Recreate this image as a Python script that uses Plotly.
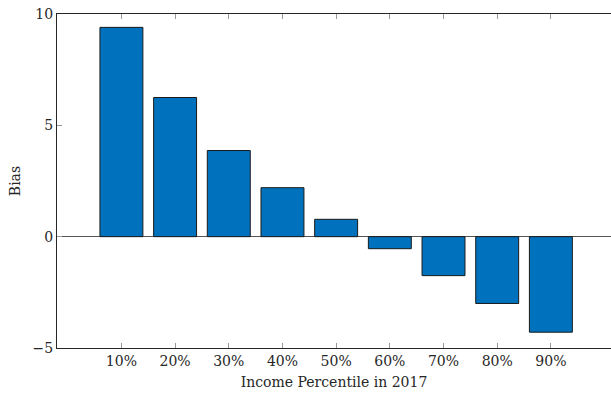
import plotly.graph_objects as go

categories = ["10%", "20%", "30%", "40%", "50%", "60%", "70%", "80%", "90%"]
bias = [9.40, 6.25, 3.87, 2.20, 0.78, -0.54, -1.75, -3.00, -4.29]
y_ticks = [-5, 0, 5, 10]
y_tick_text = ["\u22125", "0", "5", "10"]

FONT = "DejaVu Serif"
TXT = "#262626"
FS = 14

fig = go.Figure(go.Bar(
    x=categories, y=bias, width=0.8,
    marker=dict(color="#0072BD", line=dict(color="#1a1a1a", width=1)),
))

fig.update_layout(
    width=611, height=393,
    margin=dict(l=57, r=0, t=14, b=45),
    plot_bgcolor="white", paper_bgcolor="white",
    font=dict(family=FONT, size=FS, color=TXT),
    showlegend=False,
    bargap=0.2,
)
fig.update_xaxes(
    type="category", range=[-1.2, 9.12],
    showline=True, linecolor=TXT, linewidth=1, mirror="ticks",
    ticks="inside", ticklen=5, tickcolor="#999999", tickwidth=1,
    showgrid=False, zeroline=False,
    title=dict(text="Income Percentile in 2017", font=dict(family=FONT, size=FS, color=TXT), standoff=9),
    tickfont=dict(family=FONT, size=FS, color=TXT),
)
fig.update_yaxes(
    range=[-5, 10], tickvals=y_ticks, ticktext=y_tick_text,
    showline=True, linecolor=TXT, linewidth=1, mirror=False,
    ticks="inside", ticklen=5, tickcolor="#999999", tickwidth=1,
    showgrid=False, zeroline=True, zerolinecolor="#555555", zerolinewidth=1,
    title=dict(text="Bias", font=dict(family=FONT, size=FS, color=TXT), standoff=8),
    tickfont=dict(family=FONT, size=FS, color=TXT),
)

fig.write_html(
    "out.html",
    config={"displayModeBar": False},
    post_script="document.body.style.margin='0';document.body.style.overflow='hidden';",
)
